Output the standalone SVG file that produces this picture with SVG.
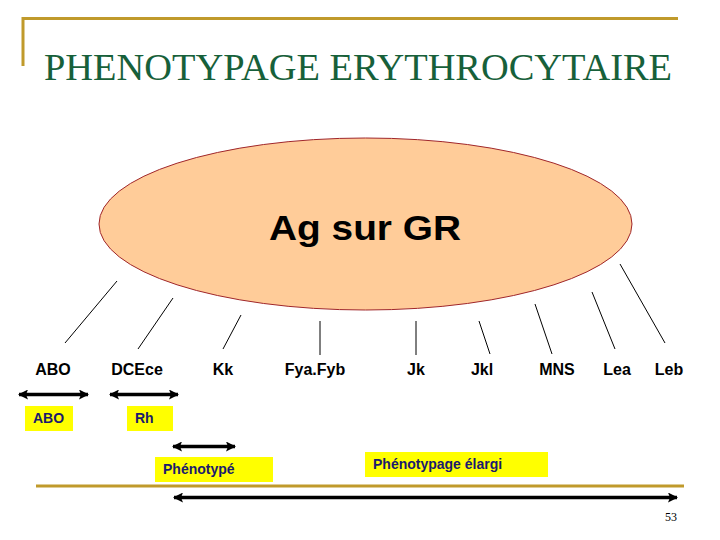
<svg xmlns="http://www.w3.org/2000/svg" width="720" height="540" viewBox="0 0 720 540">
<defs>
<marker id="ah" viewBox="0 0 10 10" refX="9" refY="5" markerWidth="10" markerHeight="10" markerUnits="userSpaceOnUse" orient="auto-start-reverse">
<path d="M0,0 L10,5 L0,10 L2,5 Z" fill="#000"/>
</marker>
</defs>
<style>
.gold{stroke:#C09A2B;fill:none}
.lbl{font-family:"Liberation Sans",Arial,sans-serif;font-weight:bold;font-size:16px;fill:#000;text-anchor:middle}
.tick{stroke:#000;stroke-width:1}
.arr{stroke:#000;stroke-width:3.5;marker-start:url(#ah);marker-end:url(#ah)}
.box{fill:#FFFF00}
.bt{font-family:"Liberation Sans",Arial,sans-serif;font-weight:bold;font-size:14px;fill:#1A1A6E}
</style>
<rect width="720" height="540" fill="#fff"/>
<g id="frame">
<path class="gold" d="M23,66 V18.5 H678" stroke-width="3"/>
<line class="gold" x1="36" y1="486" x2="684" y2="486" stroke-width="3"/>
</g>
<text id="title" x="44" y="80" font-family="'Liberation Serif','Times New Roman',serif" font-size="37" fill="#17603A" textLength="628" lengthAdjust="spacingAndGlyphs">PHENOTYPAGE ERYTHROCYTAIRE</text>
<g id="ag">
<ellipse cx="365.5" cy="224" rx="266.5" ry="86" fill="#FFCC99" stroke="#A0262A" stroke-width="1"/>
<text x="365" y="240" font-family="'Liberation Sans',Arial,sans-serif" font-weight="bold" font-size="35" text-anchor="middle" textLength="192" lengthAdjust="spacingAndGlyphs">Ag sur GR</text>
</g>
<g id="connectors">
<line class="tick" x1="117" y1="281" x2="65" y2="343"/>
<line class="tick" x1="173" y1="298" x2="138" y2="349"/>
<line class="tick" x1="241" y1="315" x2="223" y2="349"/>
<line class="tick" x1="320" y1="321" x2="320" y2="355"/>
<line class="tick" x1="416" y1="321" x2="416" y2="355"/>
<line class="tick" x1="479" y1="321" x2="490" y2="354"/>
<line class="tick" x1="535" y1="304" x2="552" y2="354"/>
<line class="tick" x1="592" y1="292" x2="615" y2="349"/>
<line class="tick" x1="620" y1="264" x2="665" y2="343"/>
<line class="arr" x1="19" y1="394.5" x2="88" y2="394.5"/>
<line class="arr" x1="110" y1="394.5" x2="178" y2="394.5"/>
<line class="arr" x1="173" y1="446.5" x2="235" y2="446.5"/>
<line class="arr" x1="174" y1="497.5" x2="677" y2="497.5"/>
</g>
<g id="ABO"><text class="lbl" x="53" y="375">ABO</text></g>
<g id="DCEce"><text class="lbl" x="137" y="375">DCEce</text></g>
<g id="Kk"><text class="lbl" x="223" y="375">Kk</text></g>
<g id="FyaFyb"><text class="lbl" x="315" y="375">Fya.Fyb</text></g>
<g id="Jk"><text class="lbl" x="416" y="375">Jk</text></g>
<g id="Jkl"><text class="lbl" x="482" y="375">Jkl</text></g>
<g id="MNS"><text class="lbl" x="557" y="375">MNS</text></g>
<g id="Lea"><text class="lbl" x="617" y="375">Lea</text></g>
<g id="Leb"><text class="lbl" x="669" y="375">Leb</text></g>
<g id="box-abo"><rect class="box" x="25" y="406" width="48" height="25"/><text class="bt" x="33" y="423">ABO</text></g>
<g id="box-rh"><rect class="box" x="127" y="406" width="46" height="25"/><text class="bt" x="135" y="423">Rh</text></g>
<g id="box-pheno"><rect class="box" x="155" y="457" width="118" height="25"/><text class="bt" x="163" y="474">Phénotypé</text></g>
<g id="box-elargi"><rect class="box" x="365" y="452" width="183" height="25"/><text class="bt" x="373" y="469">Phénotypage élargi</text></g>
<text id="page" x="671" y="521" font-family="'Liberation Serif','Times New Roman',serif" font-size="12" text-anchor="middle" fill="#000">53</text>
</svg>
